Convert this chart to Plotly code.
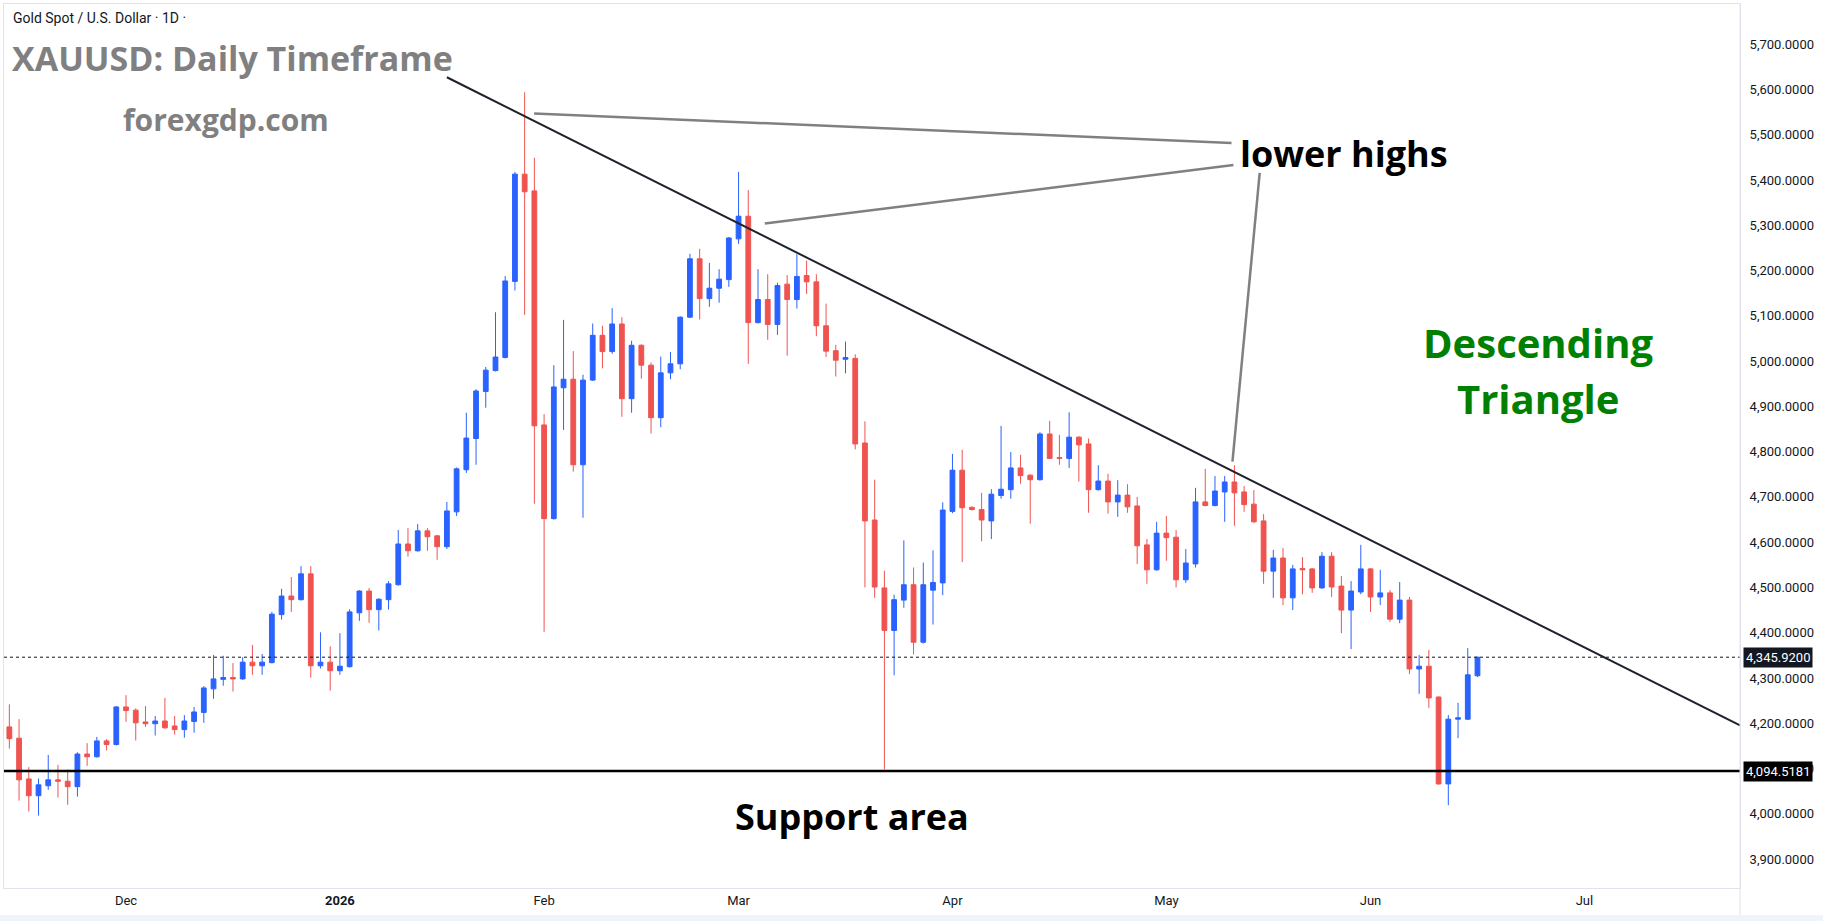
import plotly.graph_objects as go
import pandas as pd

# ---------------- data ----------------
opens = [4192, 4167, 4077, 4040, 4062, 4075, 4072, 4060, 4132, 4126,
         4161, 4153, 4236, 4229, 4203, 4199, 4205, 4194, 4186, 4204,
         4224, 4276, 4297, 4301, 4298, 4335, 4327, 4334, 4440, 4481,
         4473, 4530, 4327, 4335, 4316, 4325, 4444, 4492, 4451, 4473,
         4506, 4596, 4581, 4625, 4614, 4590, 4667, 4760, 4829, 4933,
         4979, 5008, 5176, 5413, 5376, 4859, 4652, 4941, 4960, 4771,
         4958, 5057, 5021, 5082, 4917, 5035, 4991, 4875, 4974, 4994,
         5097, 5226, 5138, 5161, 5180, 5270, 5320, 5085, 5136, 5081,
         5170, 5136, 5189, 5175, 5078, 5023, 5004, 5006, 4819, 4649,
         4499, 4405, 4472, 4506, 4379, 4494, 4510, 4668, 4759, 4677,
         4672, 4647, 4703, 4716, 4764, 4748, 4738, 4839, 4787, 4785,
         4832, 4817, 4716, 4735, 4689, 4704, 4680, 4594, 4539, 4620,
         4611, 4517, 4552, 4689, 4681, 4711, 4733, 4711, 4684, 4647,
         4536, 4565, 4477, 4542, 4541, 4499, 4569, 4503, 4450, 4490,
         4541, 4479, 4488, 4430, 4472, 4320, 4326, 4258, 4066, 4209,
         4209, 4305]
highs = [4242, 4209, 4103, 4078, 4130, 4108, 4098, 4136, 4156, 4170,
         4165, 4238, 4262, 4233, 4238, 4216, 4256, 4216, 4218, 4236,
         4282, 4351, 4349, 4333, 4346, 4373, 4353, 4446, 4497, 4523,
         4547, 4547, 4401, 4370, 4399, 4452, 4494, 4499, 4476, 4514,
         4627, 4631, 4640, 4631, 4616, 4689, 4765, 4886, 4938, 4987,
         5108, 5188, 5418, 5594, 5449, 4883, 4991, 5091, 5022, 4970,
         5083, 5078, 5117, 5097, 5045, 5037, 4997, 5010, 5020, 5099,
         5237, 5248, 5217, 5203, 5274, 5418, 5378, 5203, 5192, 5173,
         5190, 5236, 5222, 5192, 5127, 5036, 5043, 5015, 4867, 4738,
         4537, 4484, 4604, 4544, 4555, 4582, 4688, 4795, 4804, 4679,
         4709, 4717, 4857, 4799, 4793, 4750, 4843, 4868, 4837, 4887,
         4834, 4829, 4770, 4751, 4737, 4728, 4700, 4607, 4645, 4658,
         4627, 4585, 4720, 4762, 4746, 4746, 4770, 4724, 4715, 4662,
         4583, 4587, 4550, 4567, 4543, 4578, 4578, 4525, 4514, 4594,
         4543, 4539, 4494, 4512, 4479, 4351, 4362, 4259, 4218, 4245,
         4366, 4347]
lows = [4144, 4029, 4005, 3996, 4053, 4036, 4020, 4038, 4106, 4124,
        4140, 4151, 4203, 4162, 4192, 4173, 4188, 4175, 4168, 4179,
        4201, 4254, 4283, 4270, 4296, 4307, 4307, 4332, 4429, 4446,
        4471, 4301, 4321, 4272, 4307, 4323, 4426, 4422, 4405, 4451,
        4504, 4568, 4579, 4581, 4561, 4585, 4658, 4753, 4771, 4897,
        4977, 5006, 5156, 5102, 4685, 4402, 4650, 4848, 4756, 4654,
        4956, 4984, 5016, 4877, 4886, 4961, 4840, 4854, 4960, 4982,
        5095, 5092, 5120, 5129, 5164, 5259, 4994, 5083, 5047, 5058,
        5012, 5116, 5148, 5055, 5009, 4966, 4973, 4805, 4500, 4477,
        4098, 4306, 4455, 4352, 4376, 4418, 4483, 4664, 4556, 4670,
        4602, 4607, 4696, 4696, 4729, 4641, 4736, 4784, 4771, 4764,
        4734, 4665, 4714, 4663, 4656, 4665, 4552, 4508, 4537, 4559,
        4500, 4510, 4544, 4679, 4679, 4645, 4636, 4667, 4642, 4508,
        4477, 4461, 4450, 4485, 4488, 4497, 4479, 4399, 4364, 4485,
        4446, 4461, 4424, 4421, 4309, 4265, 4234, 4064, 4019, 4167,
        4207, 4302]
closes = [4166, 4075, 4040, 4064, 4075, 4072, 4060, 4132, 4126, 4161,
          4153, 4236, 4228, 4201, 4199, 4205, 4190, 4186, 4205, 4225,
          4278, 4298, 4301, 4298, 4335, 4327, 4335, 4441, 4481, 4473,
          4530, 4327, 4335, 4316, 4326, 4446, 4492, 4451, 4474, 4508,
          4596, 4581, 4625, 4612, 4590, 4669, 4762, 4830, 4934, 4980,
          5009, 5177, 5413, 5374, 4857, 4652, 4943, 4960, 4771, 4958,
          5057, 5021, 5082, 4917, 5035, 4991, 4875, 4974, 4994, 5097,
          5226, 5138, 5161, 5181, 5272, 5320, 5085, 5136, 5081, 5167,
          5136, 5187, 5175, 5078, 5022, 5002, 5008, 4817, 4647, 4501,
          4405, 4473, 4506, 4379, 4506, 4511, 4671, 4759, 4676, 4672,
          4649, 4706, 4717, 4764, 4747, 4738, 4839, 4785, 4785.5, 4832,
          4815, 4716, 4735, 4689, 4704, 4678, 4592, 4539, 4620, 4610,
          4517, 4554, 4689, 4681, 4713, 4733, 4709, 4683, 4645, 4536,
          4565, 4477, 4541, 4539, 4499, 4569, 4501, 4450, 4492, 4541,
          4479, 4488, 4430, 4472, 4320, 4326, 4256, 4066, 4209, 4212,
          4307, 4345.92]

first_day = "2025-11-13"
holidays = ["2025-12-25", "2026-01-01"]
last_price = 4345.92
support_level = 4094.5181
price_ticks = list(range(3900, 5800, 100))

# ---------------- build bar calendar ----------------
cal = [d for d in pd.bdate_range(first_day, "2026-07-31")
       if d.strftime("%Y-%m-%d") not in holidays]
bar_dates = cal[:len(closes)]
xs = list(range(len(closes)))

tickvals, ticktext = [], []
for i in range(1, len(cal)):
    if cal[i].month != cal[i - 1].month:
        tickvals.append(i)
        ticktext.append("<b>2026</b>" if cal[i].month == 1 else cal[i].strftime("%b"))

# ---------------- geometry helpers ----------------
W, H = 1823, 921
ML, MR, MT, MB = 4, 83, 4, 33
PW, PH = W - ML - MR, H - MT - MB


def pp(xp, yp):
    return (xp - ML) / PW, 1 - (yp - MT) / PH


X0, X1 = -0.55, 178.0
Y0, Y1 = 3836.1, 5788.8

UP, DOWN = "#2962ff", "#ef5350"

fig = go.Figure()
fig.add_trace(go.Candlestick(
    x=xs, open=opens, high=highs, low=lows, close=closes,
    text=[d.strftime("%Y-%m-%d") for d in bar_dates],
    increasing=dict(line=dict(color=UP, width=1), fillcolor=UP),
    decreasing=dict(line=dict(color=DOWN, width=1), fillcolor=DOWN),
    showlegend=False,
))

shapes = []
shapes.append(dict(type="line", xref="x", yref="y", x0=X0, x1=X1,
                   y0=last_price, y1=last_price,
                   line=dict(color="#131722", width=1, dash="dot")))
shapes.append(dict(type="line", xref="x", yref="y", x0=X0, x1=X1,
                   y0=support_level, y1=support_level,
                   line=dict(color="#000000", width=2.5)))
shapes.append(dict(type="line", xref="x", yref="y", x0=45.0, y0=5627, x1=178.0, y1=4195.5,
                   line=dict(color="#1e222d", width=2)))
for (a, b, c, d) in [(53.97, 5547, 125.7, 5482),
                     (77.7, 5304, 125.9, 5433),
                     (128.6, 5416, 125.8, 4778)]:
    shapes.append(dict(type="line", xref="x", yref="y", x0=a, y0=b, x1=c, y1=d,
                       line=dict(color="#808080", width=2.5)))
shapes.append(dict(type="line", xref="paper", yref="paper", x0=1, x1=1,
                   y0=pp(0, 921)[1], y1=1, line=dict(color="#e0e3eb", width=1)))
shapes.append(dict(type="rect", xref="paper", yref="paper", x0=pp(0, 0)[0], x1=pp(1823, 0)[0],
                   y0=pp(0, 921)[1], y1=pp(0, 915)[1], line=dict(width=0), fillcolor="#f0f3fa"))

ann = []


def txt(xp, yp, s, size, color, anchor="center", family="Open Sans", bold=True):
    x, y = pp(xp, yp)
    ann.append(dict(xref="paper", yref="paper", x=x, y=y, text=("<b>%s</b>" % s) if bold else s,
                    showarrow=False, xanchor=anchor, yanchor="middle",
                    font=dict(family=family, size=size, color=color)))


txt(11, 18, "Gold Spot / U.S. Dollar · 1D ·", 14, "#131722", anchor="left", family="Roboto", bold=False)
txt(10, 58, "XAUUSD: Daily Timeframe", 34, "#808080", anchor="left")
txt(226, 120, "forexgdp.com", 30, "#808080")
txt(1344, 153, "lower highs", 36, "#000000")
txt(1538, 342, "Descending", 40, "#008000")
txt(1538, 398, "Triangle", 40, "#008000")
txt(852, 816, "Support area", 36, "#000000")

for val, bg in [(last_price, "#131722"), (support_level, "#000000")]:
    ann.append(dict(xref="paper", yref="y", x=1, y=val, text="{:,.4f}".format(val),
                    showarrow=False, xanchor="left", yanchor="middle", xshift=3,
                    bgcolor=bg, borderpad=2,
                    font=dict(family="Roboto", size=13, color="#ffffff")))

fig.update_layout(
    width=W, height=H,
    margin=dict(l=ML, r=MR, t=MT, b=MB),
    paper_bgcolor="#ffffff", plot_bgcolor="#ffffff",
    shapes=shapes, annotations=ann,
    showlegend=False,
    xaxis=dict(range=[X0, X1], tickvals=tickvals, ticktext=ticktext,
               showgrid=False, zeroline=False, showline=True, linecolor="#e0e3eb",
               mirror=True, ticks="", rangeslider=dict(visible=False),
               tickfont=dict(family="Roboto", size=13, color="#131722")),
    yaxis=dict(range=[Y0, Y1], side="right", tickvals=price_ticks, tickformat=",.4f",
               showgrid=False, zeroline=False, showline=True, linecolor="#e0e3eb",
               mirror=True, ticks="outside", ticklen=6, tickcolor="rgba(0,0,0,0)",
               tickfont=dict(family="Roboto", size=13, color="#131722")),
)

fig.write_html("out.html", config={"displayModeBar": False})
